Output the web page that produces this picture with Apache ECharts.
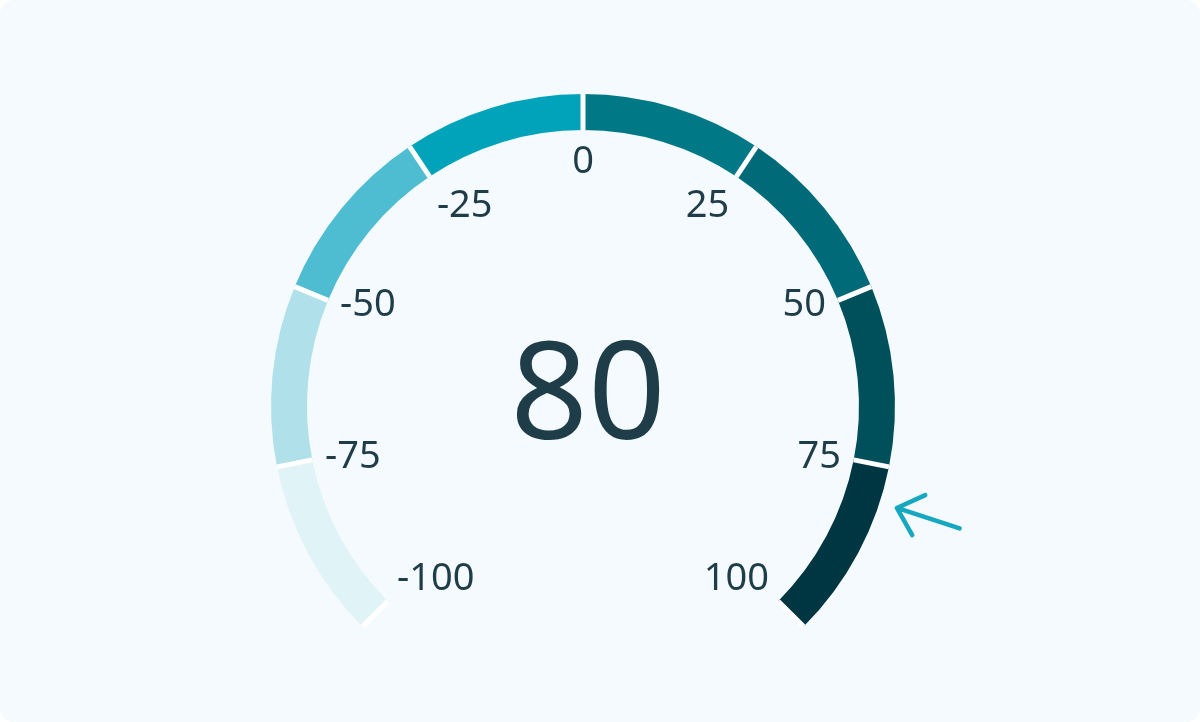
<!DOCTYPE html>
<html>
<head>
<meta charset="UTF-8">
<script src="https://cdn.jsdelivr.net/npm/echarts@6/dist/echarts.min.js"></script>
<style>
  html, body { margin: 0; padding: 0; background: #ffffff; }
  #card { width: 1200px; height: 722px; background: #f4fafd; border-radius: 14px; overflow: hidden; }
  #main { width: 1200px; height: 722px; }
</style>
</head>
<body>
<div id="card"><div id="main"></div></div>
<script type="text/javascript">
// gauge scale
var scaleMin = -100;
var scaleMax = 100;
var scaleStep = 25;
// current reading
var currentValue = 80;
// colour bands: upper end of each band and its colour
var bandEnds = [-75, -50, -25, 0, 25, 50, 75, 100];
var bandColors = ['#e0f4f8', '#b0e1eb', '#4fbdd1', '#00a3b9', '#007886', '#006a78', '#00505c', '#003642'];

var textColor = '#1f3d48';
var arrowColor = '#16a8c0';

// axisLine colour stops built from the bands
var colorStops = [];
for (var i = 0; i < bandEnds.length; i++) {
	colorStops.push([(bandEnds[i] - scaleMin) / (scaleMax - scaleMin), bandColors[i]]);
}

var myChart = echarts.init(document.getElementById('main'));

var option = {
	animation: false,
	series: [{
		type: 'gauge',
		center: [583, 406],
		radius: 312,
		startAngle: 225,
		endAngle: -45,
		min: scaleMin,
		max: scaleMax,
		splitNumber: (scaleMax - scaleMin) / scaleStep,
		axisLine: {
			lineStyle: { width: 36, color: colorStops }
		},
		// white gaps between the bands
		splitLine: {
			show: true,
			distance: -36,
			length: 36,
			lineStyle: { color: '#ffffff', width: 5 }
		},
		axisTick: { show: false },
		axisLabel: {
			distance: 49,
			color: textColor,
			fontSize: 38,
			fontFamily: 'Noto Sans',
			// end labels sit a little higher
			formatter: function(v) {
				if (v === scaleMin || v === scaleMax) return '{end|' + v + '}';
				return '' + v;
			},
			rich: {
				end: {
					fontSize: 38,
					fontFamily: 'Noto Sans',
					color: textColor,
					padding: [0, 0, 26, 0]
				}
			}
		},
		// arrow outside the ring, pointing at the value
		pointer: {
			show: true,
			icon: 'path://M21,0L21,66M0,43L21,66L42,43',
			length: 66,
			width: 42,
			offsetCenter: [0, -330],
			itemStyle: {
				color: 'none',
				borderColor: arrowColor,
				borderWidth: 4.5,
				borderCap: 'round',
				borderJoin: 'round'
			}
		},
		anchor: { show: false },
		progress: { show: false },
		title: { show: false },
		detail: {
			valueAnimation: false,
			offsetCenter: [5, -6],
			fontSize: 136,
			fontWeight: 'normal',
			fontFamily: 'Noto Sans',
			color: textColor,
			formatter: '{value}'
		},
		data: [{ value: currentValue }]
	}]
};

myChart.setOption(option);
</script>
</body>
</html>
